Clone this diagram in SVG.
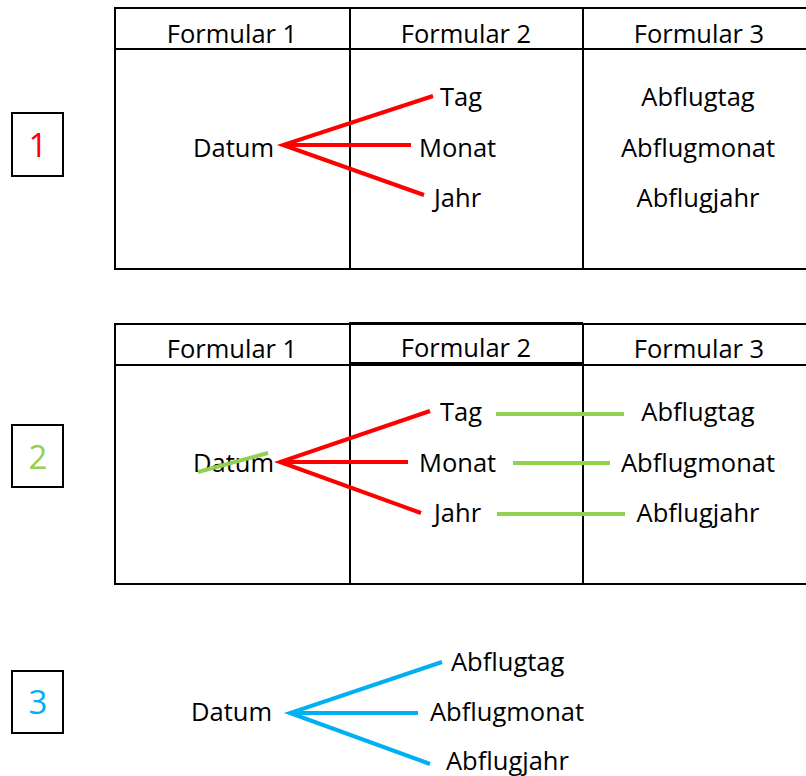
<svg xmlns="http://www.w3.org/2000/svg" width="806" height="776" viewBox="0 0 806 776">
  <style>
    .grid { fill: none; stroke: #000; stroke-width: 2; }
    .lbl { font-family: "Open Sans", "Noto Sans", sans-serif; font-size: 25.5px; fill: #000; }
    .mid { text-anchor: middle; }
    .num { font-family: "Open Sans", "Noto Sans", sans-serif; font-size: 33px; text-anchor: middle; }
    .red { stroke: #FF0000; stroke-width: 4; fill: none; }
    .green { stroke: #92D050; stroke-width: 4; fill: none; }
    .blue { stroke: #00B0F0; stroke-width: 4; fill: none; }
  </style>
  <rect width="806" height="776" fill="#fff"/>

  <!-- step markers -->
  <g id="step1">
    <rect class="grid" x="12" y="113" width="51" height="63"/>
    <text class="num" x="38" y="157" fill="#FF0000">1</text>
  </g>
  <g id="step2">
    <rect class="grid" x="12" y="425" width="51" height="62"/>
    <text class="num" x="38" y="469" fill="#92D050">2</text>
  </g>
  <g id="step3">
    <rect class="grid" x="12" y="671" width="51" height="62"/>
    <text class="num" x="38" y="714" fill="#00B0F0">3</text>
  </g>

  <!-- table 1 -->
  <g id="table1">
    <path class="grid" d="M806 8 H115 V269 H806 M115 49 H806 M350 8 V269 M583 8 V269"/>
    <text class="lbl mid" x="232" y="43">Formular 1</text>
    <text class="lbl mid" x="466" y="43">Formular 2</text>
    <text class="lbl mid" x="699" y="43">Formular 3</text>
  </g>
  <g id="t1-datum"><text class="lbl" x="193" y="157">Datum</text></g>
  <g id="t1-tag"><text class="lbl" x="440" y="106">Tag</text></g>
  <g id="t1-monat"><text class="lbl" x="419" y="157">Monat</text></g>
  <g id="t1-jahr"><text class="lbl" x="434" y="207">Jahr</text></g>
  <g id="t1-abflugtag"><text class="lbl mid" x="698" y="106">Abflugtag</text></g>
  <g id="t1-abflugmonat"><text class="lbl mid" x="698" y="157">Abflugmonat</text></g>
  <g id="t1-abflugjahr"><text class="lbl mid" x="698" y="207">Abflugjahr</text></g>

  <!-- table 2 -->
  <g id="table2">
    <path class="grid" d="M806 324 H115 V584 H806 M115 365 H806 M583 324 V584"/>
    <path class="grid" d="M350 584 V323 H583 M350 363 H583"/>
    <text class="lbl mid" x="232" y="358">Formular 1</text>
    <text class="lbl mid" x="466" y="357">Formular 2</text>
    <text class="lbl mid" x="699" y="358">Formular 3</text>
  </g>
  <g id="t2-datum"><text class="lbl" x="193" y="472">Datum</text></g>
  <g id="t2-tag"><text class="lbl" x="440" y="421">Tag</text></g>
  <g id="t2-monat"><text class="lbl" x="419" y="472">Monat</text></g>
  <g id="t2-jahr"><text class="lbl" x="434" y="522">Jahr</text></g>
  <g id="t2-abflugtag"><text class="lbl mid" x="698" y="421">Abflugtag</text></g>
  <g id="t2-abflugmonat"><text class="lbl mid" x="698" y="472">Abflugmonat</text></g>
  <g id="t2-abflugjahr"><text class="lbl mid" x="698" y="522">Abflugjahr</text></g>

  <!-- result -->
  <g id="r-datum"><text class="lbl" x="191" y="721">Datum</text></g>
  <g id="r-abflugtag"><text class="lbl" x="451" y="671">Abflugtag</text></g>
  <g id="r-abflugmonat"><text class="lbl" x="430" y="721">Abflugmonat</text></g>
  <g id="r-abflugjahr"><text class="lbl" x="446" y="770">Abflugjahr</text></g>

  <!-- connectors -->
  <g id="connectors">
    <path class="red" d="M433 96 L283 145 L424 195 M283 145 H411"/>
    <path class="red" d="M430 411 L280 462 L421 513 M280 462 H408"/>
    <line class="green" x1="198" y1="472" x2="268" y2="453"/>
    <line class="green" x1="496" y1="414" x2="624" y2="414"/>
    <line class="green" x1="513" y1="463" x2="610" y2="463"/>
    <line class="green" x1="497" y1="514" x2="625" y2="514"/>
    <path class="blue" d="M442 662 L290 713 L430 764 M290 713 H418"/>
  </g>
</svg>
